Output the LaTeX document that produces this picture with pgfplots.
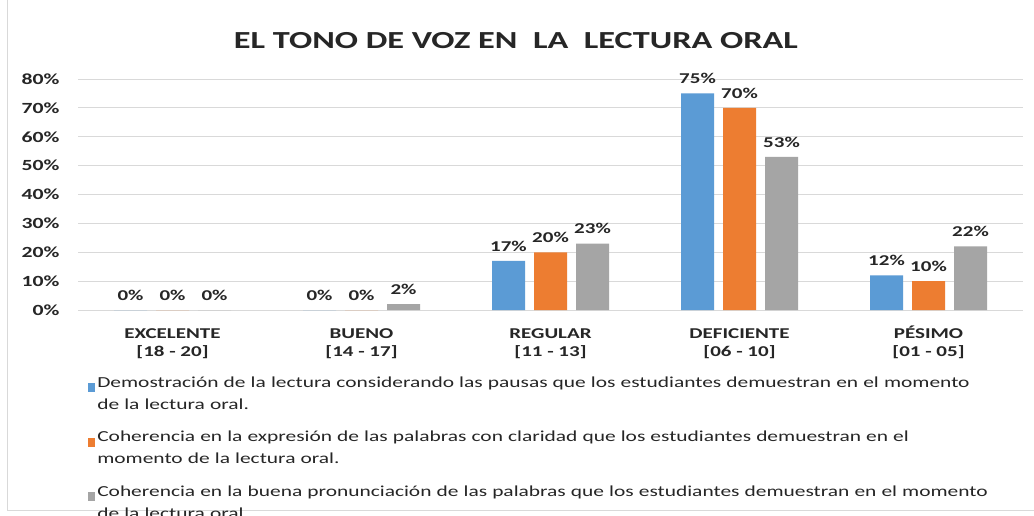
\documentclass[border=0pt]{standalone}
\usepackage{pgfplots}
\pgfplotsset{compat=1.18}
\usepackage{fontspec}
\setmainfont{Carlito}[FakeStretch=1.4]
\definecolor{cblue}{HTML}{5B9BD5}
\definecolor{corange}{HTML}{ED7D31}
\definecolor{cgray}{HTML}{A5A5A5}
\definecolor{ctext}{HTML}{262626}
\definecolor{cgrid}{HTML}{D9D9D9}
\begin{document}
\begin{tikzpicture}[x=1pt,y=1pt]
\useasboundingbox (0,0) rectangle (1034,515);
\clip (0,0) rectangle (1034,515);
\fill[white] (0,0) rectangle (1034,515);
\draw[cgrid, line width=1pt] (7,515) -- (7,5) -- (1034,5);
\node[font=\fontsize{24.5}{28}\selectfont\bfseries, text=ctext] at (516,474) {EL TONO DE VOZ EN \ LA \ LECTURA ORAL};
\begin{axis}[
  at={(78pt,205pt)}, anchor=south west,
  scale only axis, width=945pt, height=231pt,
  ybar=9pt, bar width=33pt,
  xmin=-0.5, xmax=4.5, ymin=0, ymax=80,
  ytick={0,10,...,80},
  xtick={0,1,2,3,4},
  xticklabels={{EXCELENTE\vphantom{É}\\{[18 - 20]}},{BUENO\vphantom{É}\\{[14 - 17]}},{REGULAR\vphantom{É}\\{[11 - 13]}},{DEFICIENTE\vphantom{É}\\{[06 - 10]}},{PÉSIMO\\{[01 - 05]}}},
  xticklabel style={align=center, font=\fontsize{15}{18}\selectfont\bfseries, text=ctext, yshift=-12pt},
  /pgf/number format/assume math mode=true,
  yticklabel={\pgfmathprintnumber{\tick}\%},
  yticklabel style={font=\fontsize{15.5}{17}\selectfont\bfseries, text=ctext, xshift=-15pt},
  major tick length=0pt,
  axis line style={draw=none},
  ymajorgrids, grid style={cgrid, line width=0.9pt},
  nodes near coords={\pgfmathprintnumber{\pgfplotspointmeta}\%},
  nodes near coords style={font=\fontsize{15}{17}\selectfont\bfseries, text=ctext, yshift=6pt},
  legend cell align=left,
  legend style={at={(0.0075,-0.27)}, anchor=north west, draw=none, fill=none,
    font=\fontsize{15.3}{22}\selectfont, text=ctext, row sep=18pt,
    nodes={text width=940pt, text depth=}},
  legend image code/.code={\fill[#1,draw=none] (0pt,1pt) rectangle (7pt,10pt);},
]
\addplot[fill=cblue, draw=none] coordinates {(0,0) (1,0) (2,17) (3,75) (4,12)};
\addplot[fill=corange, draw=none] coordinates {(0,0) (1,0) (2,20) (3,70) (4,10)};
\addplot[fill=cgray, draw=none] coordinates {(0,0) (1,2) (2,23) (3,53) (4,22)};
\legend{Demostración de la lectura considerando las pausas que los estudiantes demuestran en el momento\newline de la lectura oral.,
Coherencia en la expresión de las palabras con claridad que los estudiantes demuestran en el\newline momento de la lectura oral.,
Coherencia en la buena pronunciación de las palabras que los estudiantes demuestran en el momento\newline de la lectura oral.}
\end{axis}
\end{tikzpicture}
\end{document}
